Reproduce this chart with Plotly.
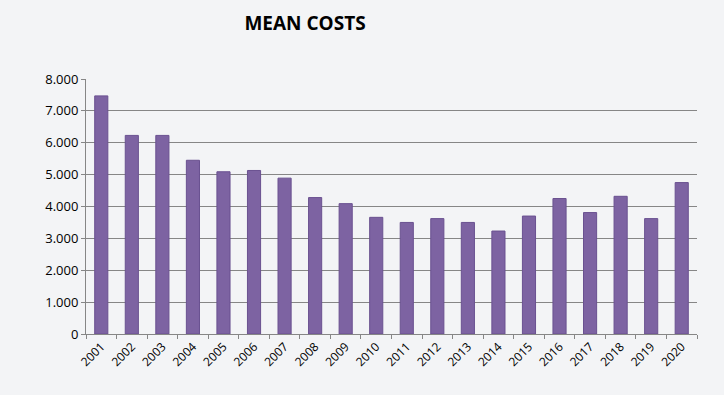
import plotly.graph_objects as go

years = [str(y) for y in range(2001, 2021)]
mean_costs = [7470, 6230, 6230, 5450, 5090, 5130, 4890, 4280, 4090, 3660,
              3500, 3620, 3500, 3230, 3700, 4250, 3810, 4320, 3620, 4750]
y_ticks = [0, 1000, 2000, 3000, 4000, 5000, 6000, 7000, 8000]

fig = go.Figure(go.Bar(
    x=years, y=mean_costs,
    marker=dict(color="#7d63a2", line=dict(color="#6a5190", width=1)),
    hoverinfo="x+y",
))

fig.update_layout(
    width=724, height=395,
    paper_bgcolor="#f3f4f6", plot_bgcolor="#f3f4f6",
    margin=dict(l=86, r=27, t=79, b=61),
    separators=",.",
    bargap=0.57,
    showlegend=False,
    font=dict(family="Open Sans, Liberation Sans, sans-serif", size=12, color="#000000"),
    title=dict(text="<b>MEAN COSTS</b>", x=305/724, xanchor="center", xref="container",
               y=1 - 23/395, yanchor="middle",
               font=dict(size=19, family="Open Sans, sans-serif", color="#000000")),
)

fig.update_xaxes(
    type="category", tickangle=-45, showgrid=False,
    showline=True, linecolor="#868686", linewidth=1,
    ticks="outside", tickson="boundaries", ticklen=4, tickcolor="#868686",
    tickfont=dict(size=12),
)
fig.update_yaxes(
    range=[0, 8000], tickvals=y_ticks, tickformat=",.0f",
    showgrid=True, gridcolor="#868686", gridwidth=1,
    showline=True, linecolor="#868686", linewidth=1,
    ticks="outside", ticklen=4, tickcolor="#868686",
    zeroline=False, tickfont=dict(size=13),
)

fig.write_html("out.html", config={"displayModeBar": False})
with open("out.html", encoding="utf-8") as f:
    html = f.read()
html = html.replace("<body>", '<body style="margin:0;padding:0;background:#f3f4f6">', 1)
with open("out.html", "w", encoding="utf-8") as f:
    f.write(html)
